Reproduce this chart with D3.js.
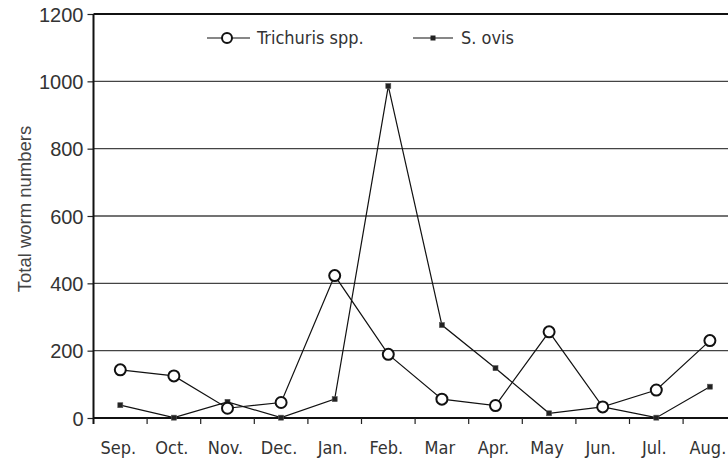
<!DOCTYPE html>
<html>
<head>
<meta charset="utf-8">
<script src="https://cdn.jsdelivr.net/npm/d3@7"></script>
<style>
  body { margin: 0; background: #fff; }
  .tick-num { font-family: "Liberation Sans", Arial, sans-serif; font-size: 20px; fill: #333; }
  .month { font-family: "DejaVu Sans Condensed", "DejaVu Sans", sans-serif; font-stretch: condensed; font-size: 18px; fill: #333; }
  .legend-text { font-family: "DejaVu Sans Condensed", "DejaVu Sans", sans-serif; font-stretch: condensed; font-size: 18px; fill: #333; }
  .ylabel { font-family: "Liberation Sans", Arial, sans-serif; font-size: 18.5px; fill: #444; }
</style>
</head>
<body>
<div id="chart-container"></div>
<script>
/* DATA */
const months = ["Sep.", "Oct.", "Nov.", "Dec.", "Jan.", "Feb.", "Mar", "Apr.", "May", "Jun.", "Jul.", "Aug."];
const trichuris = [143, 125, 29, 46, 423, 189, 56, 37, 256, 33, 83, 230];
const sOvis = [38, 1, 48, 1, 56, 986, 276, 148, 14, 33, 1, 93];
const yTicks = [0, 200, 400, 600, 800, 1000, 1200];
const seriesNames = ["Trichuris spp.", "S. ovis"];

/* CONSTANTS */
const width = 728,
  height = 461,
  margin = { top: 14, left: 93.5, bottom: 43 };

const svg = d3.select("#chart-container")
  .append("svg")
  .attr("width", width)
  .attr("height", height);

// x: one band per month, plot runs past the right edge (cropped like the original)
const xScale = d3.scaleBand()
  .domain(months)
  .range([margin.left, margin.left + 12 * 53.6])
  .padding(0);

const yScale = d3.scaleLinear()
  .domain([0, 1200])
  .range([height - margin.bottom, margin.top]);

const cx = d => xScale(d) + xScale.bandwidth() / 2;

// gridlines
svg.append("g")
  .selectAll("line")
  .data(yTicks.filter(d => d > 0))
  .join("line")
  .attr("x1", margin.left)
  .attr("x2", width)
  .attr("y1", d => yScale(d))
  .attr("y2", d => yScale(d))
  .attr("stroke", d => d === 1200 ? "#111" : "#444")
  .attr("stroke-width", d => d === 1200 ? 2 : 1.4);

// y axis
const yAxis = d3.axisLeft(yScale)
  .tickValues(yTicks)
  .tickFormat(d3.format("d"))
  .tickSize(6)
  .tickPadding(4);

const yAxisGroup = svg.append("g")
  .attr("transform", `translate(${margin.left}, 0)`)
  .call(yAxis);

yAxisGroup.select(".domain").remove();
yAxisGroup.selectAll("line").attr("stroke", "#222").attr("stroke-width", 1.2);
yAxisGroup.selectAll("text")
  .attr("class", "tick-num")
  .attr("font-family", null)
  .attr("font-size", null)
  .attr("fill", null)
  .attr("dy", "0.36em");

// y axis line (extends slightly below baseline)
svg.append("line")
  .attr("x1", margin.left).attr("x2", margin.left)
  .attr("y1", yScale(1200)).attr("y2", yScale(0) + 6)
  .attr("stroke", "#111").attr("stroke-width", 2);

// baseline
svg.append("line")
  .attr("x1", margin.left).attr("x2", width)
  .attr("y1", yScale(0)).attr("y2", yScale(0))
  .attr("stroke", "#111").attr("stroke-width", 2);

// x ticks at band boundaries
svg.append("g")
  .selectAll("line")
  .data(months.slice(1))
  .join("line")
  .attr("x1", d => xScale(d)).attr("x2", d => xScale(d))
  .attr("y1", yScale(0)).attr("y2", yScale(0) + 6)
  .attr("stroke", "#222").attr("stroke-width", 1.2);

// month labels
svg.append("g")
  .selectAll("text")
  .data(months)
  .join("text")
  .attr("class", "month")
  .attr("x", d => cx(d) - 2)
  .attr("y", yScale(0) + 36)
  .attr("text-anchor", "middle")
  .text(d => d);

// y label
svg.append("text")
  .attr("class", "ylabel")
  .attr("transform", `translate(31, 209) rotate(-90)`)
  .attr("text-anchor", "middle")
  .text("Total worm numbers");

// lines
const lineGen = (vals) => d3.line()
  .x((d, i) => cx(months[i]))
  .y(d => yScale(d))(vals);

svg.append("path")
  .attr("d", lineGen(sOvis))
  .attr("fill", "none")
  .attr("stroke", "#111")
  .attr("stroke-width", 1.2);

svg.append("path")
  .attr("d", lineGen(trichuris))
  .attr("fill", "none")
  .attr("stroke", "#111")
  .attr("stroke-width", 1.2);

// S. ovis square markers
svg.append("g")
  .selectAll("rect")
  .data(sOvis)
  .join("rect")
  .attr("x", (d, i) => cx(months[i]) - 2.5)
  .attr("y", d => yScale(d) - 2.5)
  .attr("width", 5)
  .attr("height", 5)
  .attr("fill", "#222")
  .attr("stroke", "#555")
  .attr("stroke-width", 0.6);

// Trichuris circle markers
svg.append("g")
  .selectAll("circle")
  .data(trichuris)
  .join("circle")
  .attr("cx", (d, i) => cx(months[i]))
  .attr("cy", d => yScale(d))
  .attr("r", 5.5)
  .attr("fill", "#fff")
  .attr("stroke", "#111")
  .attr("stroke-width", 2);

// LEGEND
const legend = svg.append("g").attr("transform", "translate(0, 38)");

legend.append("line")
  .attr("x1", 207).attr("x2", 250).attr("y1", 0).attr("y2", 0)
  .attr("stroke", "#111").attr("stroke-width", 1.2);
legend.append("circle")
  .attr("cx", 227).attr("cy", 0).attr("r", 5)
  .attr("fill", "#fff").attr("stroke", "#111").attr("stroke-width", 2);
legend.append("text")
  .attr("class", "legend-text")
  .attr("x", 257).attr("y", 6)
  .text(seriesNames[0]);

legend.append("line")
  .attr("x1", 413).attr("x2", 453).attr("y1", 0).attr("y2", 0)
  .attr("stroke", "#111").attr("stroke-width", 1.2);
legend.append("rect")
  .attr("x", 430.5).attr("y", -2.5).attr("width", 5).attr("height", 5)
  .attr("fill", "#222");
legend.append("text")
  .attr("class", "legend-text")
  .attr("x", 461).attr("y", 6)
  .text(seriesNames[1]);
</script>
</body>
</html>
